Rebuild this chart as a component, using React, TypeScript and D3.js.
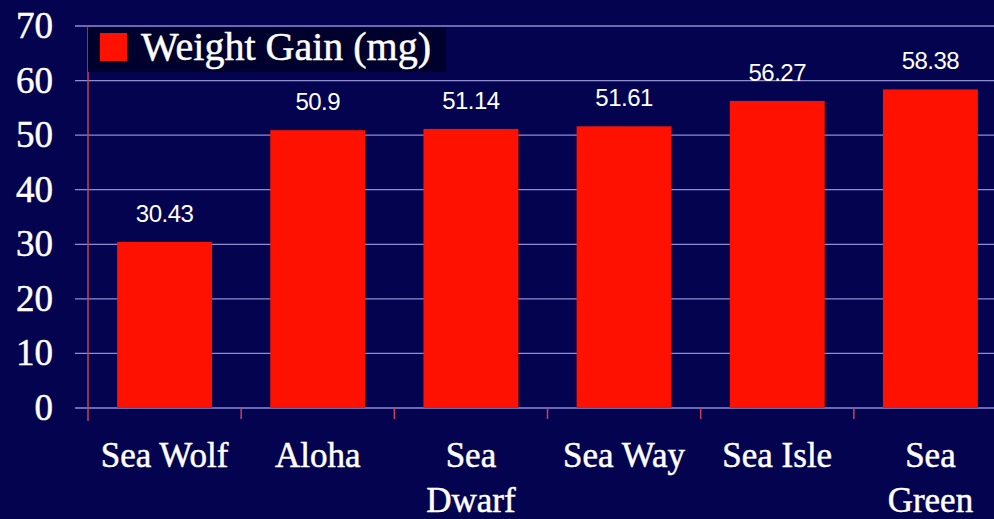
import React from "react";
import * as d3 from "d3";

const categories: string[][] = [["Sea Wolf"], ["Aloha"], ["Sea", "Dwarf"], ["Sea Way"], ["Sea Isle"], ["Sea", "Green"]];
const categoryKeys = ["Sea Wolf", "Aloha", "Sea Dwarf", "Sea Way", "Sea Isle", "Sea Green"];
const values = [30.43, 50.9, 51.14, 51.61, 56.27, 58.38];
const valueLabels = ["30.43", "50.9", "51.14", "51.61", "56.27", "58.38"];
const yTicks = [0, 10, 20, 30, 40, 50, 60, 70];
const seriesName = "Weight Gain (mg)";

const W = 994;
const H = 519;
const BG = "#03034f";
const BAR = "#ff1100";
const GRID = "#8e8ed0";
const AXIS = "#c8405e";
const SERIF = "'Liberation Serif', 'Times New Roman', serif";

export default function App() {
  const x = d3
    .scaleBand<string>()
    .domain(categoryKeys)
    .range([88, 1007])
    .paddingInner(0.38)
    .paddingOuter(0.19);
  const y = d3.scaleLinear().domain([0, 70]).range([408, 26]);
  const step = x.step();
  const boundaries = categoryKeys.map((_, i) => 88 + i * step).slice(1);

  return (
    <svg
      width={W}
      height={H}
      style={{ position: "absolute", left: 0, top: 0, display: "block" }}
    >
      <rect x={0} y={0} width={W} height={H} fill={BG} />
      {yTicks.map((t) => (
        <line
          key={"g" + t}
          x1={75}
          x2={W}
          y1={y(t)}
          y2={y(t)}
          stroke={GRID}
          strokeWidth={1.3}
        />
      ))}
      {categoryKeys.map((c, i) => (
        <rect
          key={"b" + c}
          x={x(c)!}
          y={y(values[i])}
          width={x.bandwidth()}
          height={y(0) - y(values[i])}
          fill={BAR}
        />
      ))}
      <line x1={88} x2={88} y1={y(70)} y2={421} stroke={AXIS} strokeWidth={1.5} />
      {boundaries.map((b, i) => (
        <line key={"t" + i} x1={b} x2={b} y1={y(0)} y2={419} stroke={AXIS} strokeWidth={1.5} />
      ))}
      {yTicks.map((t) => (
        <text
          key={"yl" + t}
          x={53}
          y={y(t) + 12}
          textAnchor="end"
          fill="#ffffff"
          stroke="#ffffff"
          strokeWidth={0.5}
          fontFamily={SERIF}
          fontSize={37}
        >
          {t}
        </text>
      ))}
      {categoryKeys.map((c, i) => (
        <text
          key={"v" + c}
          x={x(c)! + x.bandwidth() / 2}
          y={y(values[i]) - 20}
          textAnchor="middle"
          fill="#ffffff"
          fontFamily="'Liberation Sans', Arial, sans-serif"
          fontSize={24}
          letterSpacing={-0.5}
        >
          {valueLabels[i]}
        </text>
      ))}
      {categoryKeys.map((c, i) => (
        <text
          key={"c" + c}
          x={x(c)! + x.bandwidth() / 2}
          y={467}
          textAnchor="middle"
          fill="#ffffff"
          stroke="#ffffff"
          strokeWidth={0.5}
          fontFamily={SERIF}
          fontSize={35}
        >
          {categories[i].map((line, j) => (
            <tspan key={j} x={x(c)! + x.bandwidth() / 2} dy={j === 0 ? 0 : 45}>
              {line}
            </tspan>
          ))}
        </text>
      ))}
      <rect x={88} y={27} width={358} height={45} fill="#00002c" />
      <rect x={100} y={33} width={27} height={28} fill={BAR} />
      <text
        x={141}
        y={60}
        fill="#ffffff"
        stroke="#ffffff"
        strokeWidth={0.5}
        fontFamily={SERIF}
        fontSize={40}
      >
        {seriesName}
      </text>
    </svg>
  );
}
